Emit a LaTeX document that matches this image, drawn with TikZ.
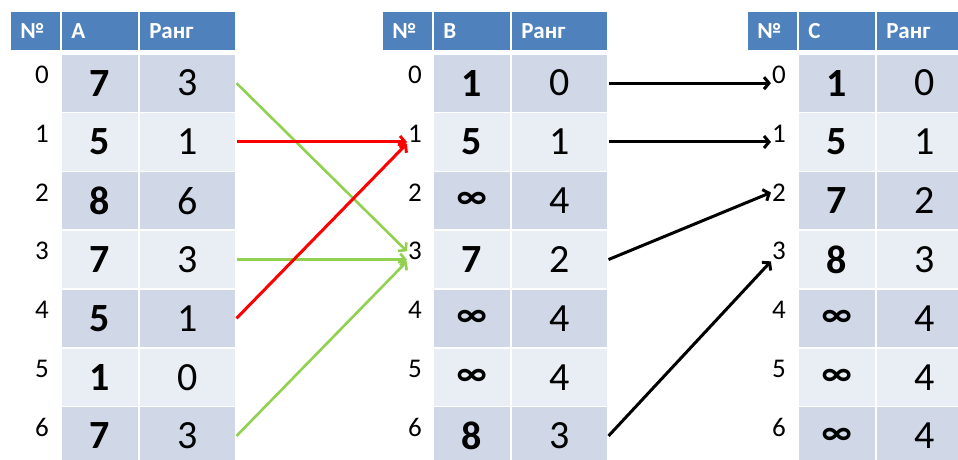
\documentclass[tikz,border=0pt]{standalone}
\usepackage{fontspec}
\setmainfont{Carlito}
\usetikzlibrary{arrows.meta,calc}
\definecolor{hdr}{HTML}{4F81BD}
\definecolor{rowdark}{HTML}{D0D8E8}
\definecolor{rowlight}{HTML}{E9EDF4}
\definecolor{grn}{HTML}{92D050}
\newcommand\infsym{{\fontsize{36}{36}\selectfont ∞}}
\tikzset{
  x=1pt,y=-1pt,
  hcell/.style={fill=hdr, draw=white, line width=1.5pt, minimum height=40pt,
    inner xsep=10.5pt, inner ysep=0pt, align=left, anchor=north west,
    text=white, font=\bfseries\fontsize{23}{23}\selectfont},
  cell/.style={draw=white, line width=1.5pt, minimum height=58.8pt, inner sep=0pt,
    anchor=north west, font=\fontsize{40}{40}\selectfont},
  vcell/.style={cell, minimum width=78pt, font=\bfseries\fontsize{40}{40}\selectfont},
  rcell/.style={cell, minimum width=97pt},
  idx/.style={inner sep=1pt, font=\fontsize{27}{27}\selectfont},
  conn/.style={-{Straight Barb[length=5pt,width=12pt]}},
  grnarrow/.style={conn, draw=grn, line width=2.6pt},
  redarrow/.style={conn, draw=red, line width=3pt},
  blkarrow/.style={conn, draw=black, line width=3pt},
}
\begin{document}
\begin{tikzpicture}
\useasboundingbox (0,0) rectangle (958,459);
\clip (0,0) rectangle (958,459);
% headers
\foreach \T/\X/\L in {A/9/A, B/381/B, C/746/C}{
  \node[hcell, text width=30pt] (\T-hn) at (\X,10) {№};
  \node[hcell, text width=57pt] (\T-hv) at (\X+51,10) {\L};
  \node[hcell, text width=76pt] (\T-hr) at (\X+129,10) {Ранг};
}
% rows
\foreach \T/\X/\IX/\vals/\ranks in {
  A/60/42/{7,5,8,7,5,1,7}/{3,1,6,3,1,0,3},
  B/432/415/{1,5,\infsym,7,\infsym,\infsym,8}/{0,1,4,2,4,4,3},
  C/797/779/{1,5,7,8,\infsym,\infsym,\infsym}/{0,1,2,3,4,4,4}}{
  \foreach \v [count=\n from 0] in \vals {
    \pgfmathsetmacro\ytop{53+58.8*\n}
    \pgfmathtruncatemacro\odd{mod(\n,2)}
    \ifnum\odd=0 \def\rc{rowdark}\else\def\rc{rowlight}\fi
    \node[vcell, fill=\rc] (\T-v\n) at (\X,\ytop) {\v};
    \node[idx] (\T-i\n) at (\IX,\ytop+29.4-7.5) {\n};
  }
  \foreach \r [count=\n from 0] in \ranks {
    \pgfmathsetmacro\ytop{53+58.8*\n}
    \pgfmathtruncatemacro\odd{mod(\n,2)}
    \ifnum\odd=0 \def\rc{rowdark}\else\def\rc{rowlight}\fi
    \node[rcell, fill=\rc] (\T-r\n) at (\X+78,\ytop) {\r};
  }
}
% connectors A -> B
\draw[grnarrow] (A-r0.east) -- (B-i3.west);
\draw[grnarrow] (A-r3.east) -- (A-r3.east -| B-i3.west);
\draw[grnarrow] (A-r6.east) -- (B-i3.south west);
\draw[redarrow] (A-r1.east) -- (A-r1.east -| B-i1.west);
\draw[redarrow] (A-r4.east) -- (B-i1.south west);
% connectors B -> C
\draw[blkarrow] (B-r0.east) -- (B-r0.east -| C-i0.west);
\draw[blkarrow] (B-r1.east) -- (B-r1.east -| C-i1.west);
\draw[blkarrow] (B-r3.east) -- (C-i2.west);
\draw[blkarrow] (B-r6.east) -- (C-i3.south west);
\end{tikzpicture}
\end{document}
